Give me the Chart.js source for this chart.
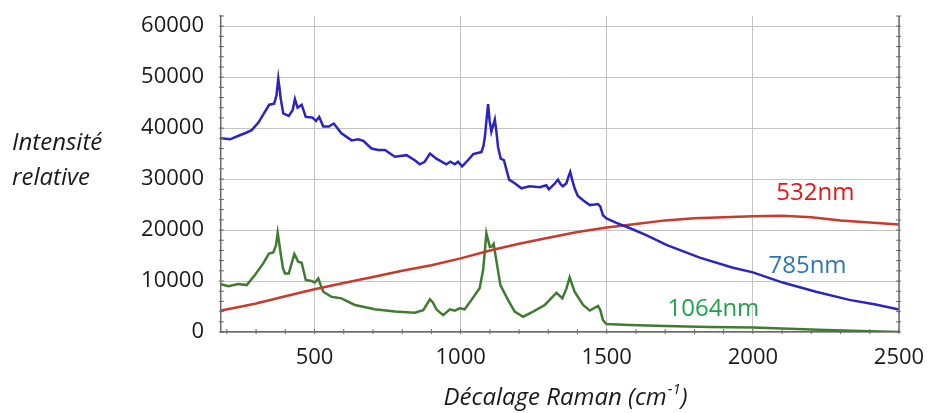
<!DOCTYPE html>
<html>
<head>
<meta charset="utf-8">
<script src="https://cdn.jsdelivr.net/npm/chart.js@4.4.0/dist/chart.umd.min.js"></script>
<style>body{margin:0;background:#fff}</style>
</head>
<body>
<canvas id="raman" width="928" height="413"></canvas>
<script>
// 785 nm excitation
var shift785 = [180,211,240,262,285,308,330,345,362,370,376,381,384,393,412,425,433,442,456,470,492,505,516,530,549,566,592,627,649,667,695,718,741,775,815,843,860,877,895,917,951,965,980,991,1005,1025,1043,1071,1078,1083,1090,1094,1099,1105,1111,1117,1123,1128,1137,1148,1166,1185,1208,1236,1271,1293,1302,1320,1333,1342,1350,1362,1369,1375,1382,1390,1401,1420,1442,1458,1470,1478,1487,1499,1533,1578,1635,1704,1818,1932,2000,2102,2216,2330,2420,2500];
var int785 = [38000,37800,38500,39000,39600,41100,43200,44600,44800,46500,49700,47500,45900,42900,42400,43500,45700,44000,44600,42200,42100,41400,42200,40300,40300,40900,39000,37600,37800,37500,36000,35700,35700,34400,34700,33700,32900,33400,35000,34000,32900,33400,32900,33400,32500,33700,34900,35300,36500,38300,42500,44700,41500,39300,40500,41700,39000,36300,34000,33700,29900,29200,28200,28600,28400,28800,28000,29000,29900,29000,28600,29200,30500,31400,29800,28200,26700,25800,24900,25000,25100,24600,22900,22300,21400,20400,19000,17100,14600,12600,11700,9700,7900,6300,5400,4400];

// 532 nm excitation
var shift532 = [180,250,300,400,500,600,700,800,900,1000,1100,1200,1300,1400,1500,1600,1700,1800,1900,2000,2100,2200,2300,2400,2500];
var int532 = [4200,5000,5600,7000,8400,9600,10800,12000,13100,14450,16000,17300,18500,19600,20500,21200,21900,22300,22500,22700,22800,22500,21900,21500,21100];

// 1064 nm excitation
var shift1064 = [180,205,239,268,296,325,344,359,368,374,379,385,392,399,412,422,431,444,456,470,490,501,513,521,530,558,592,638,706,775,843,872,885,895,905,917,940,963,980,997,1014,1037,1065,1077,1083,1088,1094,1100,1107,1113,1122,1136,1162,1185,1214,1248,1288,1328,1348,1362,1373,1390,1419,1442,1470,1478,1487,1499,1578,1700,1850,2000,2150,2250,2400,2500];
var int1064 = [9400,9000,9400,9200,11200,13500,15400,15600,17000,19500,17500,15100,12500,11500,11500,13500,15300,13800,13600,10200,10000,9700,10500,9200,7900,6900,6600,5300,4450,4000,3800,4300,5500,6400,5800,4450,3300,4450,4200,4650,4450,6300,8600,12200,16000,19400,18000,16700,16800,17300,14100,9200,6300,4000,3000,4000,5300,7700,6600,8500,10700,7900,5300,4200,5100,4300,2350,1570,1370,1200,1000,900,600,400,150,0];

var xTicks = [500,1000,1500,2000,2500];
var yTicks = [0,10000,20000,30000,40000,50000,60000];

function pts(xs, ys) {
  return xs.map(function (x, i) { return {x: x, y: ys[i]}; });
}

var seriesLabels = [
  {text: '532nm', x: 2214, y: 27260, color: '#e3161c'},
  {text: '785nm', x: 2187, y: 12940, color: '#2e75b6'},
  {text: '1064nm', x: 1865, y: 4510, color: '#1fa34a'}
];

var extras = {
  id: 'extras',
  afterDraw: function (chart) {
    var ctx = chart.ctx, xs = chart.scales.x, ys = chart.scales.y, a = chart.chartArea;
    ctx.save();
    // right axis line
    ctx.strokeStyle = '#6b6b6b';
    ctx.lineWidth = 1.5;
    ctx.beginPath();
    ctx.moveTo(a.right, a.top);
    ctx.lineTo(a.right, a.bottom);
    ctx.stroke();
    // minor ticks
    ctx.lineWidth = 1;
    ctx.beginPath();
    for (var v = 200; v <= 2500; v += 100) {
      var px = xs.getPixelForValue(v);
      ctx.moveTo(px, a.bottom - 3);
      ctx.lineTo(px, a.bottom + 2);
    }
    for (var w = 0; w <= 62000; w += 2000) {
      var py = ys.getPixelForValue(w);
      ctx.moveTo(a.left - 2, py);
      ctx.lineTo(a.left + 3, py);
      ctx.moveTo(a.right - 3, py);
      ctx.lineTo(a.right + 2, py);
    }
    ctx.stroke();

    // series names
    ctx.font = '24px "Open Sans"';
    ctx.textAlign = 'center';
    ctx.textBaseline = 'middle';
    seriesLabels.forEach(function (l) {
      ctx.fillStyle = l.color;
      ctx.fillText(l.text, xs.getPixelForValue(l.x), ys.getPixelForValue(l.y));
    });

    // y axis title, two lines
    ctx.fillStyle = '#1a1a1a';
    ctx.font = 'italic 24px "Open Sans"';
    ctx.textAlign = 'left';
    ctx.fillText('Intensité', 12, 143);
    ctx.fillText('relative', 12, 178);

    // x axis title with superscript
    ctx.textBaseline = 'alphabetic';
    var main = 'Décalage Raman (cm', sup = '-1', end = ')';
    ctx.font = 'italic 24px "Open Sans"';
    var w1 = ctx.measureText(main).width, w3 = ctx.measureText(end).width;
    ctx.font = 'italic 15px "Open Sans"';
    var w2 = ctx.measureText(sup).width;
    var x0 = 565 - (w1 + w2 + w3) / 2;
    ctx.font = 'italic 24px "Open Sans"';
    ctx.fillText(main, x0, 405);
    ctx.fillText(end, x0 + w1 + w2 + 1, 405);
    ctx.font = 'italic 15px "Open Sans"';
    ctx.fillText(sup, x0 + w1 + 1, 394);
    ctx.restore();
  }
};

function plain(v) { return String(v); }

new Chart(document.getElementById('raman'), {
  type: 'line',
  data: {
    datasets: [
      {label: '785nm', data: pts(shift785, int785), borderColor: '#2b25bf', borderWidth: 2.5},
      {label: '532nm', data: pts(shift532, int532), borderColor: '#c73a2c', borderWidth: 2.5},
      {label: '1064nm', data: pts(shift1064, int1064), borderColor: '#3f7c31', borderWidth: 2.5}
    ]
  },
  options: {
    responsive: false,
    animation: false,
    parsing: false,
    elements: {point: {radius: 0}, line: {tension: 0}},
    layout: {padding: {top: 16, right: 29, left: 0, bottom: 0}},
    plugins: {legend: {display: false}, tooltip: {enabled: false}},
    scales: {
      x: {
        type: 'linear',
        min: 180,
        max: 2500,
        afterBuildTicks: function (s) { s.ticks = xTicks.map(function (v) { return {value: v}; }); },
        afterFit: function (s) { s.height = 81; s.paddingLeft = 0; s.paddingRight = 0; },
        ticks: {color: '#1a1a1a', font: {family: 'Open Sans', size: 22}, padding: 13, maxRotation: 0, callback: plain},
        grid: {color: '#c4c4c4', borderDash: [2, 3], drawTicks: false},
        border: {display: true, color: '#6b6b6b', width: 1.5}
      },
      y: {
        min: 0,
        max: 62000,
        afterBuildTicks: function (s) { s.ticks = yTicks.map(function (v) { return {value: v}; }); },
        afterFit: function (s) { s.width = 221; s.paddingTop = 0; s.paddingBottom = 0; },
        ticks: {color: '#1a1a1a', font: {family: 'Open Sans', size: 22}, padding: 17, callback: plain},
        grid: {color: '#c4c4c4', borderDash: [2, 3], drawTicks: false},
        border: {display: true, color: '#6b6b6b', width: 1.5}
      }
    }
  },
  plugins: [extras]
});
</script>
</body>
</html>
